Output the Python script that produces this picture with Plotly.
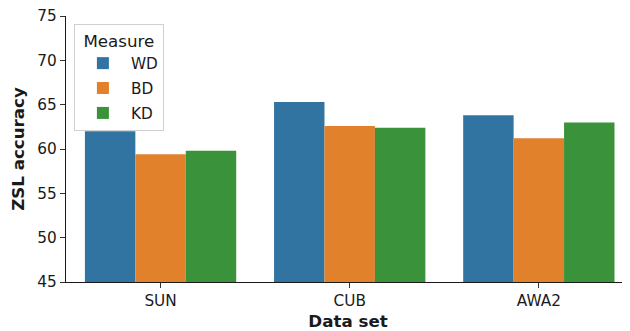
import plotly.graph_objects as go

categories = ["SUN", "CUB", "AWA2"]
measures = ["WD", "BD", "KD"]
wd_values = [62.0, 65.3, 63.8]
bd_values = [59.4, 62.6, 61.2]
kd_values = [59.8, 62.4, 63.0]
colors = ["#3274a1", "#e1812c", "#3a923a"]
y_ticks = [45, 50, 55, 60, 65, 70, 75]

series = [wd_values, bd_values, kd_values]
font_family = "DejaVu Sans"
text_color = "#1a1a1a"
tick_size = 15.3
label_size = 16.7

fig = go.Figure()
for i, (name, vals) in enumerate(zip(measures, series)):
    fig.add_trace(go.Bar(
        x=categories, y=vals, name=name,
        marker=dict(color=colors[i], line=dict(width=0)),
        legendgroup=name,
    ))

# page body has an 8px default margin, so the figure is drawn 8px smaller
fig.update_layout(
    width=622, height=323,
    margin=dict(l=58, r=0, t=8, b=49, autoexpand=False),
    paper_bgcolor="white", plot_bgcolor="white",
    barmode="group", bargap=0.2, bargroupgap=0,
    font=dict(family=font_family, size=tick_size, color=text_color),
    showlegend=True,
    legend=dict(
        title=dict(text="Measure", side="top center",
                   font=dict(size=label_size, family=font_family, color=text_color)),
        x=0.014, y=0.97, xanchor="left", yanchor="top",
        bordercolor="#d0d0d0", borderwidth=1, bgcolor="rgba(255,255,255,0.8)",
        font=dict(size=tick_size, family=font_family, color=text_color),
        tracegroupgap=2, itemwidth=46,
    ),
    xaxis=dict(
        range=[-0.5, 2.482], automargin=False,
        showline=True, linecolor="#1a1a1a", linewidth=1.2,
        ticks="outside", ticklen=5, tickcolor="#333333", tickwidth=1.2,
        showgrid=False, zeroline=False,
        tickfont=dict(size=tick_size, family=font_family, color=text_color),
        title=dict(text="<b>Data set</b>", font=dict(size=label_size, family=font_family, color=text_color), standoff=12),
    ),
    yaxis=dict(
        range=[45, 75], automargin=False,
        tickvals=y_ticks, ticklabeloverflow="allow",
        showline=True, linecolor="#1a1a1a", linewidth=1.2,
        ticks="outside", ticklen=5, tickcolor="#333333", tickwidth=1.2,
        showgrid=False, zeroline=False,
        tickfont=dict(size=tick_size, family=font_family, color=text_color),
        title=dict(text="<b>ZSL accuracy</b>", font=dict(size=label_size, family=font_family, color=text_color), standoff=10),
    ),
)

fig.write_html("out.html")
